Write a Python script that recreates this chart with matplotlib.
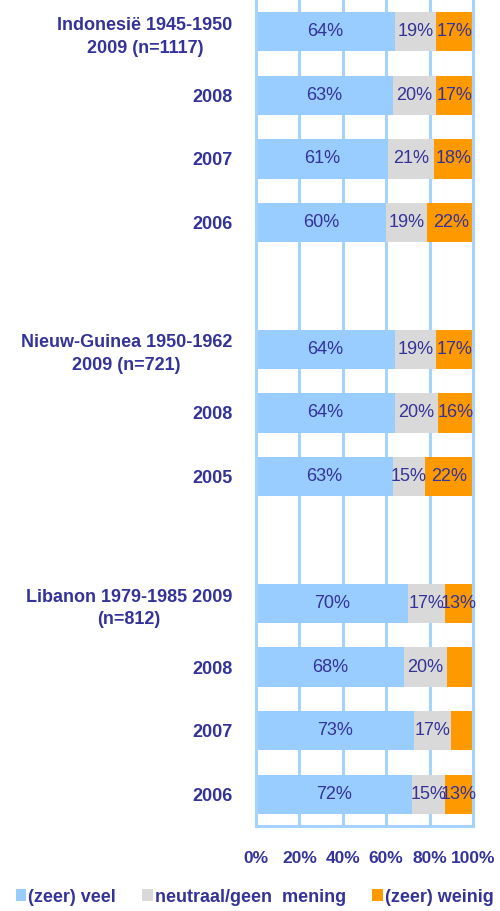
import matplotlib
matplotlib.use("Agg")
import matplotlib.pyplot as plt
import numpy as np

plt.rcParams['font.family'] = ['Liberation Sans', 'DejaVu Sans']

# Row labels (top to bottom); empty strings are spacer rows
categories = ["Indonesië 1945-1950\n2009 (n=1117)", "2008", "2007", "2006", "",
              "Nieuw-Guinea 1950-1962\n2009 (n=721)", "2008", "2005", "",
              "Libanon 1979-1985 2009\n(n=812)", "2008", "2007", "2006"]
veel    = [64, 63, 61, 60, None, 64, 64, 63, None, 70, 68, 73, 72]
neutraal = [19, 20, 21, 19, None, 19, 20, 15, None, 17, 20, 17, 15]
weinig  = [17, 17, 18, 22, None, 17, 16, 22, None, 13, 12, 10, 13]
# whether the orange segment carries a value label in the original
weinig_labeled = [True, True, True, True, None, True, True, True, None, True, False, False, True]
series_names = ["(zeer) veel", "neutraal/geen  mening", "(zeer) weinig"]
xticks = [0, 20, 40, 60, 80, 100]
xticklabels = ["0%", "20%", "40%", "60%", "80%", "100%"]

colors = ["#99CCFF", "#D9D9D9", "#FF9900"]
txt_color = "#333399"
grid_color = "#A6D2FF"

fig = plt.figure(figsize=(5.0, 9.11), dpi=100)
ax = fig.add_axes([256/500, 1 - 826/911, (473-256)/500, 826/911])

n = len(categories)
y = np.arange(n)
idx = [i for i in range(n) if veel[i] is not None]
v = np.array([veel[i] for i in idx], float)
ne = np.array([neutraal[i] for i in idx], float)
w = np.array([weinig[i] for i in idx], float)
yy = y[idx]
h = 0.62

b1 = ax.barh(yy, v, height=h, color=colors[0], label=series_names[0], zorder=2)
b2 = ax.barh(yy, ne, left=v, height=h, color=colors[1], label=series_names[1], zorder=2)
b3 = ax.barh(yy, w, left=v + ne, height=h, color=colors[2], label=series_names[2], zorder=2)

for k, i in enumerate(idx):
    ax.text(v[k] / 2, y[i], f"{int(v[k])}%", ha="center", va="center",
            fontsize=13, color=txt_color, zorder=3)
    ax.text(v[k] + ne[k] / 2, y[i], f"{int(ne[k])}%", ha="center", va="center",
            fontsize=13, color=txt_color, zorder=3)
    if weinig_labeled[i]:
        ax.text(v[k] + ne[k] + w[k] / 2, y[i], f"{int(w[k])}%", ha="center", va="center",
                fontsize=13, color=txt_color, zorder=3)

ax.set_xlim(0, 100)
ax.set_ylim(n - 0.5, -0.5)
ax.set_xticks(xticks)
ax.set_xticklabels(xticklabels, fontsize=12.5, fontweight="bold", color=txt_color)
ax.set_yticks(y)
ax.set_yticklabels(categories, fontsize=13, fontweight="bold", color=txt_color,
                   multialignment="center", linespacing=1.45)
ax.tick_params(axis="x", length=0, pad=18)
ax.tick_params(axis="y", length=0, pad=17)
ax.xaxis.grid(True, color=grid_color, linewidth=2.2, zorder=0)
ax.set_axisbelow(True)
for s in ["left", "right", "bottom"]:
    ax.spines[s].set_color(grid_color)
    ax.spines[s].set_linewidth(2.2)
ax.spines["top"].set_visible(False)

fig.legend(handles=[b1, b2, b3], labels=series_names, loc="center",
           bbox_to_anchor=(0.509, 1 - 897/911), ncol=3, frameon=False,
           handlelength=0.6, handleheight=0.6, handletextpad=0.1, columnspacing=1.45,
           prop={"size": 13, "weight": "bold"}, labelcolor=txt_color)

fig.savefig("out.png", dpi=100)
